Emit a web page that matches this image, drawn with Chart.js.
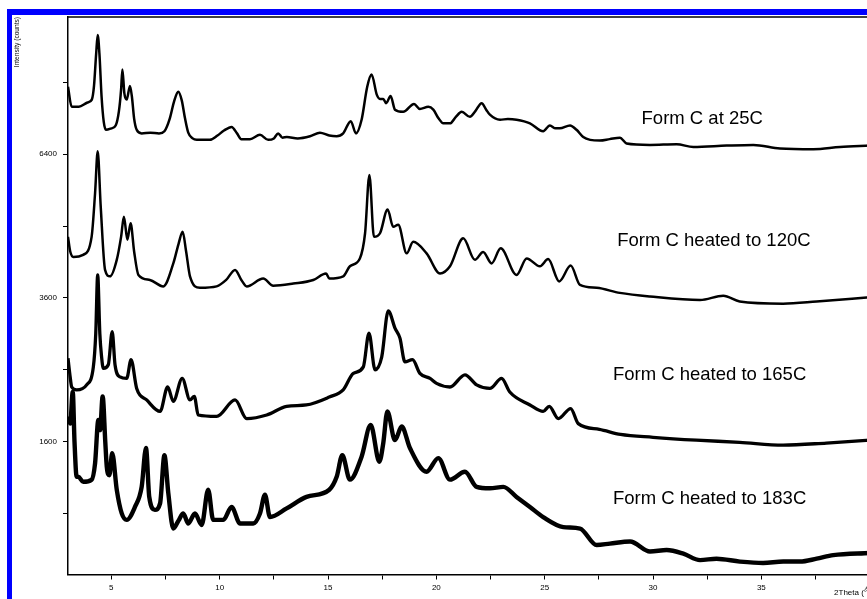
<!DOCTYPE html>
<html>
<head>
<meta charset="utf-8">
<script src="https://cdn.jsdelivr.net/npm/chart.js@4/dist/chart.umd.min.js"></script>
<style>
  html, body { margin: 0; padding: 0; background: #fff; overflow: hidden; width: 867px; height: 599px; }
  #wrap { position: absolute; left: 0; top: 0; width: 880px; height: 599px; }
  .bar { position: absolute; background: #0000ff; }
</style>
</head>
<body>
<div id="wrap"><canvas id="c" width="880" height="599"></canvas></div>
<div class="bar" style="left:7px;top:9px;width:860px;height:6px"></div>
<div class="bar" style="left:7px;top:9px;width:5px;height:590px"></div>
<script>
// XRPD patterns of Form C after heating, plotted on a square-root intensity axis.
// Intensities are stored as sqrt(counts); the axis labels show counts.

const seriesNames = ['Form C at 25C', 'Form C heated to 120C', 'Form C heated to 165C', 'Form C heated to 183C'];

const twoTheta25 = [3.00,3.17,3.5,3.9,4.1,4.2,4.3,4.37,4.45,4.55,4.65,4.75,5.0,5.2,5.35,5.45,5.51,5.6,5.71,5.86,5.95,6.05,6.17,6.4,6.8,7.2,7.45,7.7,7.9,8.09,8.25,8.4,8.55,8.75,8.94,9.25,9.55,9.9,10.2,10.55,10.8,11.0,11.4,11.86,12.24,12.5,12.7,12.9,13.1,13.6,14.17,14.63,15.06,15.4,15.7,16.05,16.29,16.55,16.81,17.01,17.25,17.4,17.55,17.68,17.89,18.09,18.47,18.97,19.24,19.63,19.86,20.1,20.32,20.63,20.9,21.17,21.55,21.8,22.09,22.3,22.47,22.94,23.3,23.7,24.32,24.93,25.24,25.5,25.7,26.17,26.47,26.78,27.1,27.55,28.0,28.47,28.78,29.86,31.09,31.86,33.4,34.63,35.86,37.4,38.63,40.0];
const rootCounts25 = [89.4,86.6,86.6,87.2,87.6,89.5,94.0,96.6,94.0,88.0,84.5,83.4,83.6,84.0,86.0,89.0,91.8,88.5,87.6,89.5,88.0,85.0,83.4,82.9,83.0,82.9,83.2,85.0,87.4,88.7,87.5,85.0,83.0,82.2,82.0,82.0,82.0,82.6,83.3,83.8,82.9,82.1,82.1,82.7,82.0,82.2,82.9,82.3,82.4,82.2,82.5,83.0,82.6,82.5,82.9,84.6,82.9,84.8,89.4,91.1,88.3,87.7,87.7,87.1,88.1,86.2,85.9,87.0,86.3,86.6,86.2,85.0,84.3,84.3,85.2,85.9,85.2,86.0,87.1,86.2,85.5,84.8,84.9,84.8,84.3,83.2,84.0,83.6,83.6,84.0,83.4,82.4,82.0,81.9,82.1,82.3,81.5,81.3,81.4,81.0,81.2,81.3,80.8,80.7,81.0,81.2];

const twoTheta120 = [3.00,3.1,3.25,3.7,4.09,4.25,4.37,4.51,4.71,4.94,5.25,5.45,5.58,5.74,5.89,6.05,6.25,6.78,7.4,7.86,8.1,8.29,8.45,8.63,9.09,9.86,10.3,10.71,11.0,11.25,12.01,12.47,13.4,14.32,14.91,15.06,15.7,16.01,16.47,16.71,16.91,17.12,17.4,17.75,18.01,18.24,18.63,18.93,19.55,20.17,20.63,21.24,21.78,22.16,22.55,22.97,23.7,24.17,24.78,25.16,25.67,26.2,26.63,27.4,28.47,29.86,32.17,33.24,34.0,36.0,37.55,40.0];
const rootCounts120 = [68.5,66.5,65.7,66.0,68.5,74.6,80.4,72.7,63.9,63.0,65.3,68.5,71.3,68.1,70.4,66.5,63.2,62.5,61.6,64.8,67.5,69.2,66.5,63.0,61.4,61.6,62.5,63.9,62.5,61.6,62.7,61.7,62.0,62.5,63.4,62.7,63.0,64.4,65.5,69.0,77.1,68.5,69.0,72.3,69.9,70.2,66.2,67.8,66.2,63.4,64.4,68.3,65.3,66.4,64.8,66.9,63.2,65.5,64.4,65.4,62.3,64.5,61.8,61.4,60.7,60.2,59.7,60.3,59.5,59.2,59.5,60.1];

const twoTheta165 = [3.00,3.1,3.17,3.4,3.86,4.17,4.28,4.37,4.47,4.55,4.63,4.86,5.04,5.17,5.4,5.71,5.91,6.17,6.63,7.25,7.6,7.86,8.27,8.63,8.83,9.01,9.86,10.71,11.25,12.17,13.09,14.0,15.06,15.7,16.17,16.63,16.89,17.17,17.48,17.78,18.09,18.32,18.55,18.9,19.24,19.71,20.01,20.63,21.32,21.86,22.47,23.01,23.39,24.32,24.93,25.21,25.63,26.2,26.55,27.52,28.5,30.0,32.0,34.0,36.0,38.0,40.0];
const rootCounts165 = [51.6,49.0,47.6,47.2,47.9,50.4,55.0,63.2,55.0,51.8,50.2,50.7,55.3,50.7,49.0,48.8,51.4,47.4,45.8,44.2,47.6,45.6,48.8,45.8,46.3,43.7,43.5,45.8,43.2,43.7,44.9,45.1,46.2,47.2,49.5,50.4,55.1,50.0,51.8,58.2,55.8,54.4,51.1,51.4,49.5,48.8,48.1,47.6,49.3,47.9,47.4,48.8,46.9,45.1,44.2,44.9,43.2,44.6,42.5,41.7,41.0,40.6,40.2,39.9,39.5,39.8,40.2];

const twoTheta183 = [3.00,3.1,3.22,3.3,3.4,3.48,3.7,4.09,4.25,4.4,4.48,4.6,4.72,4.79,4.91,5.04,5.25,5.48,5.71,6.09,6.4,6.6,6.75,7.01,7.25,7.45,7.63,7.86,8.1,8.32,8.55,8.86,9.17,9.47,9.7,10.17,10.55,10.94,11.55,11.86,12.09,12.32,13.09,14.01,15.06,15.4,15.66,16.01,16.55,16.97,17.37,17.55,17.74,18.09,18.4,18.78,19.55,20.09,20.63,21.32,21.86,22.47,23.09,23.7,24.32,24.93,25.86,26.63,27.4,28.01,28.94,29.86,30.63,31.4,32.17,32.93,34.01,35.08,36.01,36.78,37.55,38.32,40.0];
const rootCounts183 = [43.5,42.5,46.9,40.0,35.1,35.1,34.4,34.7,37.0,43.0,41.6,46.3,40.0,36.5,35.3,38.4,33.3,30.0,29.1,30.9,33.7,39.1,32.3,30.5,31.4,38.1,32.8,27.9,29.0,30.0,28.6,30.0,28.4,33.3,29.1,29.1,30.9,28.6,28.6,30.0,32.6,29.5,30.7,32.3,33.3,35.1,38.1,34.7,37.9,42.3,37.2,39.8,44.2,40.2,42.1,39.1,35.8,37.7,34.7,35.8,33.7,33.5,33.7,32.3,30.9,29.5,28.1,27.9,25.6,25.8,26.1,24.7,24.9,24.4,23.5,23.7,23.3,23.1,23.3,23.3,23.7,24.2,24.5];

// Axis ticks
const xTickValues = [5,7.5,10,12.5,15,17.5,20,22.5,25,27.5,30,32.5,35,37.5,40];
const xTickLabels = [5,10,15,20,25,30,35,40];
const yTickCounts = [900,1600,2500,3600,4900,6400,8100];
const yTickLabels = [1600,3600,6400];

const FONT = '"Liberation Sans", Arial, sans-serif';

function zip(xs, ys) {
  const n = Math.min(xs.length, ys.length);
  const out = [];
  for (let i = 0; i < n; i++) out.push({ x: xs[i], y: ys[i] });
  return out;
}

const traces = [
  { x: twoTheta25, y: rootCounts25, width: 2.5 },
  { x: twoTheta120, y: rootCounts120, width: 2.5 },
  { x: twoTheta165, y: rootCounts165, width: 3.3 },
  { x: twoTheta183, y: rootCounts183, width: 4.4 }
];

const datasets = traces.map((t, i) => ({
  label: seriesNames[i],
  data: zip(t.x, t.y),
  borderColor: '#000',
  borderWidth: t.width,
  borderJoinStyle: 'round',
  pointRadius: 0,
  fill: false,
  cubicInterpolationMode: 'monotone'
}));

// Where each pattern's name sits, in axis units (2θ, sqrt counts) of its left/baseline
const nameAnchors = [[29.47, 84.16], [28.35, 67.24], [28.15, 48.6], [28.15, 31.3]];

const framePlugin = {
  id: 'frameAndNames',
  afterDraw(chart) {
    const { ctx, chartArea, scales } = chart;
    ctx.save();
    ctx.strokeStyle = '#000';
    ctx.lineWidth = 1.5;
    ctx.beginPath();
    ctx.moveTo(chartArea.left, chartArea.top);
    ctx.lineTo(chartArea.right, chartArea.top);
    ctx.stroke();

    ctx.fillStyle = '#000';
    ctx.font = '18.5px ' + FONT;
    ctx.textAlign = 'left';
    ctx.textBaseline = 'alphabetic';
    seriesNames.forEach((name, i) => {
      const px = scales.x.getPixelForValue(nameAnchors[i][0]);
      const py = scales.y.getPixelForValue(nameAnchors[i][1]);
      ctx.fillText(name, px, py);
    });
    ctx.restore();
  }
};

new Chart(document.getElementById('c'), {
  type: 'line',
  data: { datasets },
  options: {
    responsive: false,
    animation: false,
    layout: { padding: { top: 17, left: 0, right: 10.3, bottom: 0 } },
    plugins: { legend: { display: false }, tooltip: { enabled: false } },
    scales: {
      x: {
        type: 'linear',
        min: 3,
        max: 40,
        afterBuildTicks: s => { s.ticks = xTickValues.map(v => ({ value: v })); },
        afterFit: s => { s.height = 24.5; s.paddingLeft = 0; s.paddingRight = 0; },
        ticks: {
          autoSkip: false,
          maxRotation: 0,
          padding: 3,
          color: '#000',
          font: { family: FONT, size: 8 },
          callback: v => (xTickLabels.includes(v) ? String(v) : '')
        },
        grid: { drawOnChartArea: false, drawTicks: true, tickLength: 5, tickColor: '#000', tickWidth: 1 },
        border: { display: true, color: '#000', width: 1.5 },
        title: {
          display: true, text: '2Theta (°)', align: 'end', color: '#000',
          font: { family: FONT, size: 8 }, padding: { top: 0, bottom: 1.2 }
        }
      },
      y: {
        type: 'linear',
        min: 21.5,
        max: 99.1,
        afterBuildTicks: s => { s.ticks = yTickCounts.map(c => ({ value: Math.sqrt(c) })); },
        afterFit: s => { s.width = 68; s.paddingTop = 0; s.paddingBottom = 0; },
        ticks: {
          autoSkip: false,
          padding: 6,
          color: '#000',
          font: { family: FONT, size: 8 },
          callback: v => {
            const c = Math.round(v * v);
            return yTickLabels.includes(c) ? String(c) : '';
          }
        },
        grid: { drawOnChartArea: false, drawTicks: true, tickLength: 5, tickColor: '#000', tickWidth: 1 },
        border: { display: true, color: '#000', width: 1.5 },
        title: {
          display: true, text: 'Intensity (counts)', align: 'end', color: '#000',
          font: { family: FONT, size: 6.6 }, padding: { top: 13, bottom: 0 }
        }
      }
    }
  },
  plugins: [framePlugin]
});
</script>
</body>
</html>
